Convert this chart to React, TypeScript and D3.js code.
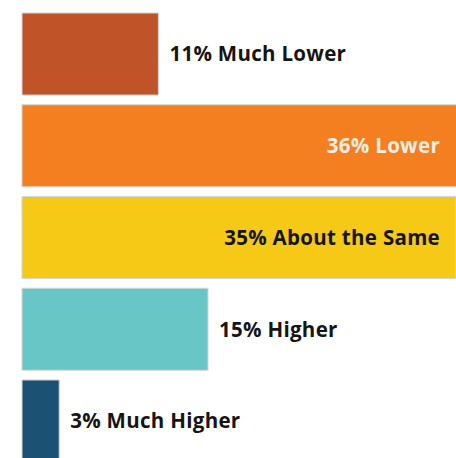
import React from "react";
import * as d3 from "d3";

const categories = ["Much Lower", "Lower", "About the Same", "Higher", "Much Higher"];
const values = [11, 36, 35, 15, 3];
const colors = ["#C05428", "#F47F20", "#F5C916", "#68C6C6", "#1B5274"];
const labelInside = [false, true, true, false, false];
const labelColors = ["#151515", "#F8EDE4", "#151515", "#151515", "#151515"];

const W = 456;
const H = 458;

export default function App() {
  const x = d3.scaleLinear().domain([0, 35]).range([22, 456]);
  const y = d3
    .scaleBand<string>()
    .domain(categories)
    .range([13, 462])
    .paddingInner(0.106)
    .paddingOuter(0);
  return (
    <svg
      width={W}
      height={H}
      style={{ position: "absolute", left: 0, top: 0, background: "#fff" }}
      fontFamily="'Open Sans', sans-serif"
    >
      {categories.map((c, i) => {
        const y0 = y(c)!;
        const bw = y.bandwidth();
        const xe = x(values[i]);
        const label = `${values[i]}% ${c}`;
        return (
          <g key={c}>
            <rect
              x={x(0)}
              y={y0}
              width={xe - x(0)}
              height={bw}
              fill={colors[i]}
              stroke="#d6d6d6"
              strokeWidth={1}
            />
            <text
              x={labelInside[i] ? 440 : xe + 11}
              y={y0 + bw / 2}
              dy="0.36em"
              textAnchor={labelInside[i] ? "end" : "start"}
              fontSize={20.5}
              letterSpacing={0.3}
              fontWeight={700}
              fill={labelColors[i]}
            >
              {label}
            </text>
          </g>
        );
      })}
    </svg>
  );
}
